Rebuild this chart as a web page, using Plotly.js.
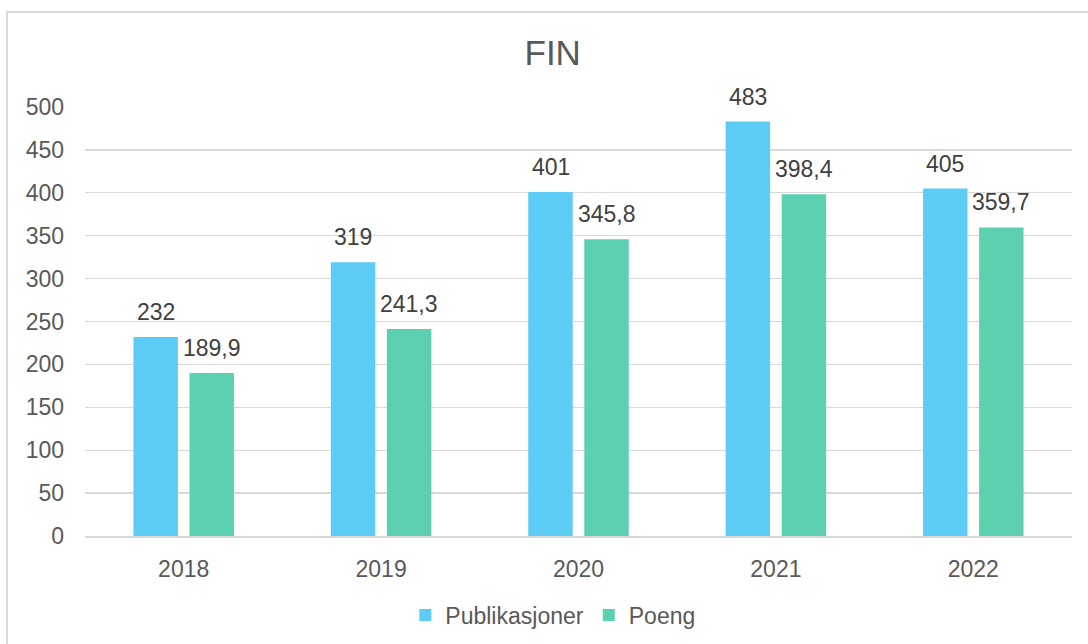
<!DOCTYPE html>
<html><head><meta charset="utf-8">
<script src="https://cdn.plot.ly/plotly-3.0.1.min.js"></script>
<style>
html,body{margin:0;padding:0;overflow:hidden;background:#fff;width:1088px;height:644px;}
#frame{position:absolute;left:6px;top:11px;width:1100px;height:700px;border:2px solid #d9d9d9;box-sizing:border-box;}
#chart{position:absolute;left:0;top:0;width:1088px;height:644px;}
</style></head>
<body>
<div id="frame"></div>
<div id="chart"></div>
<script>
const years = ['2018','2019','2020','2021','2022'];
const publikasjoner = [232, 319, 401, 483, 405];
const poeng = [189.9, 241.3, 345.8, 398.4, 359.7];
const yTicks = [0,50,100,150,200,250,300,350,400,450,500];

const fmt = v => String(v).replace('.', ',');
const colors = {pub:'#5DCCF4', po:'#5DD0B2'};
const FONT = 'Liberation Sans, Arial, sans-serif';

const traces = [
  {type:'bar', name:'Publikasjoner', x:years, y:publikasjoner, marker:{color:colors.pub}, hoverinfo:'none'},
  {type:'bar', name:'Poeng', x:years, y:poeng, marker:{color:colors.po}, hoverinfo:'none'}
];

const annotations = [];
years.forEach((yr,i)=>{
  annotations.push({x:i, y:publikasjoner[i], xref:'x', yref:'y', text:fmt(publikasjoner[i]), showarrow:false, xshift:-28, yanchor:'bottom', yshift:10, font:{family:FONT, size:23, color:'#404040'}});
  annotations.push({x:i, y:poeng[i], xref:'x', yref:'y', text:fmt(poeng[i]), showarrow:false, xshift:28, yanchor:'bottom', yshift:10, font:{family:FONT, size:23, color:'#404040'}});
});

const layout = {
  width:1088, height:644,
  margin:{l:85, r:16, t:107, b:108, autoexpand:false},
  paper_bgcolor:'rgba(0,0,0,0)', plot_bgcolor:'rgba(0,0,0,0)',
  font:{family:FONT, color:'#595959', size:23},
  title:{text:'FIN', x:0.508, xanchor:'center', y:0.918, yanchor:'middle', font:{size:35, color:'#595959'}},
  barmode:'group', bargap:0.432, bargroupgap:0.207,
  xaxis:{type:'category', range:[-0.5,4.5], automargin:false, showgrid:false, showline:true, linecolor:'#d9d9d9', linewidth:1.5, ticks:'', ticklabelstandoff:12, tickfont:{size:23, color:'#595959'}, fixedrange:true},
  yaxis:{range:[0,500], automargin:false, tickvals:yTicks, showgrid:true, gridcolor:'#d9d9d9', gridwidth:1.3, zeroline:false, showline:false, ticks:'', ticklabelstandoff:20, tickfont:{size:23, color:'#595959'}, fixedrange:true},
  showlegend:true,
  legend:{orientation:'h', x:0.474, xanchor:'center', y:-0.184, yanchor:'middle', font:{size:23, color:'#595959'}, traceorder:'normal'},
  annotations:annotations
};
Plotly.newPlot('chart', traces, layout, {displayModeBar:false, staticPlot:true});
</script>
</body></html>
